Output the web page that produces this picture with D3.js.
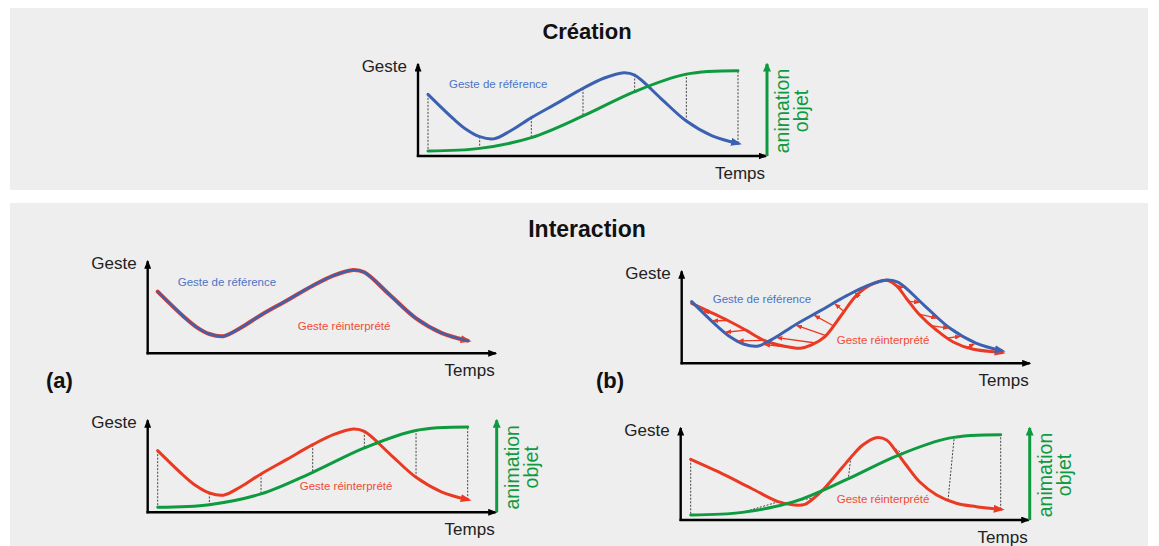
<!DOCTYPE html>
<html><head><meta charset="utf-8">
<script src="https://cdn.jsdelivr.net/npm/d3@7"></script>
<style>
body{margin:0;background:#fff}
svg{display:block}
text{font-family:"Liberation Sans",Arial,Helvetica,sans-serif}
</style>
</head><body>
<svg id="c" width="1159" height="546"></svg>
<script>
// ---------- DATA ----------
const sampleTimes = [0, 1, 2, 3, 4, 5, 6];
// reference gesture (Geste de référence)
const refTimes  = [0, 0.5, 0.75, 1, 1.27, 1.6, 2, 2.5, 3, 3.4, 3.79, 4, 4.5, 5, 5.5, 6];
const refValues = [67, 40, 28.5, 21, 18.6, 27.5, 41.7, 57.5, 73.5, 84.5, 90.6, 88, 63, 38, 22, 13.8];
// object animation (animation objet)
const animTimes  = [0, 1, 2, 3, 4, 5, 6];
const animValues = [5.4, 8.3, 20, 43.5, 70, 89, 92.7];
// reinterpreted gesture, panel (b) top
const reintTopTimes  = [0, 0.35, 0.7, 1.05, 1.4, 1.8, 2.1, 2.32, 2.58, 2.9, 3.19, 3.51, 3.77, 3.97, 4.16, 4.42, 4.74, 5.06, 5.45, 5.9, 6];
const reintTopValues = [65.2, 56, 46.5, 36, 25, 18.5, 16.3, 19.9, 29, 52.5, 73.9, 86.5, 90.2, 84, 70.2, 52.2, 35.9, 23.2, 15.2, 12.3, 11.5];
// reinterpreted gesture, panel (b) bottom
const reintBotTimes  = [0, 0.53, 1.17, 1.69, 2.01, 2.21, 2.34, 2.59, 2.92, 3.14, 3.33, 3.59, 3.79, 3.98, 4.17, 4.43, 4.76, 5.14, 5.53, 5.92, 6];
const reintBotValues = [66, 52.5, 34.5, 20, 16.3, 17, 21.7, 34.5, 56.2, 70.7, 81.5, 89.5, 87, 74.2, 59.8, 41.6, 27.2, 18.2, 14.5, 12, 11.6];
// alignment arrows (b) top: time on reinterpreted curve -> time on reference curve
const alignFromTimes = [0.35, 0.7, 1.05, 1.4, 1.9, 2.4, 2.6, 2.75, 2.95, 3.2, 4.0, 4.2, 4.4, 4.63, 4.94, 5.33];
const alignToTimes   = [0.2, 0.38, 0.63, 0.87, 1.38, 1.62, 2.0, 2.35, 2.75, 3.15, 4.13, 4.44, 4.77, 5.0, 5.23, 5.5];
// links (b) bottom: time on gesture -> time on animation
const linkGestTimes = [0, 1.7, 2.4, 3.1, 3.91, 4.98, 6];
const linkAnimTimes = [0, 1, 2, 3.05, 4.1, 5.1, 6];

const titles = ["Création", "Interaction"];
const axisY = "Geste", axisX = "Temps";
const animLabel = ["animation", "objet"];
const refLabel = "Geste de référence", reintLabel = "Geste réinterprété";

// ---------- STYLE ----------
const BLUE = "#3b61b0", RED = "#ea3a23", GREEN = "#0e9a3f";
const TBLUE = "#4d73c6", TRED = "#f04b36";

const zip = (a, b) => a.map((t, i) => [t, b[i]]);
const series = {
  ref: zip(refTimes, refValues),
  anim: zip(animTimes, animValues),
  rtop: zip(reintTopTimes, reintTopValues),
  rbot: zip(reintBotTimes, reintBotValues)
};

const svg = d3.select("#c");
const defs = svg.append("defs");
function marker(id, color, w, h, refX) {
  defs.append("marker").attr("id", id)
    .attr("markerUnits", "userSpaceOnUse")
    .attr("viewBox", `0 0 ${w} ${h}`).attr("preserveAspectRatio", "none")
    .attr("markerWidth", w).attr("markerHeight", h)
    .attr("refX", refX).attr("refY", h / 2).attr("orient", "auto")
    .append("path").attr("d", `M0,0L${w},${h/2}L0,${h}Z`).attr("fill", color);
}
marker("ah-black", "#000", 9, 7, 7.5);
marker("ah-green", GREEN, 9, 8, 7.5);
marker("ah-blue", BLUE, 11, 8, 7);
marker("ah-red", RED, 11, 8, 7);
marker("ah-small", RED, 6, 5, 5.5);

// panels
svg.append("rect").attr("x", 10).attr("y", 8).attr("width", 1138).attr("height", 182).attr("fill", "#eeeeee");
svg.append("rect").attr("x", 10).attr("y", 203).attr("width", 1138).attr("height", 343).attr("fill", "#eeeeee");
svg.append("text").attr("x", 587).attr("y", 39).attr("text-anchor", "middle")
  .attr("font-size", 22).attr("font-weight", "bold").attr("fill", "#111").text(titles[0]);
svg.append("text").attr("x", 587).attr("y", 237).attr("text-anchor", "middle")
  .attr("font-size", 23).attr("font-weight", "bold").attr("fill", "#111").text(titles[1]);
svg.append("text").attr("x", 46).attr("y", 388).attr("font-size", 22).attr("font-weight", "bold").attr("fill", "#111").text("(a)");
svg.append("text").attr("x", 596).attr("y", 388).attr("font-size", 22).attr("font-weight", "bold").attr("fill", "#111").text("(b)");

function pointAtX(node, px) {
  let lo = 0, hi = node.getTotalLength();
  for (let i = 0; i < 32; i++) {
    const m = (lo + hi) / 2;
    if (node.getPointAtLength(m).x < px) lo = m; else hi = m;
  }
  return node.getPointAtLength((lo + hi) / 2);
}

function chart(cfg) {
  const g = svg.append("g").attr("transform", `translate(${cfg.ox},${cfg.oy})`);
  const x = d3.scaleLinear().domain([0, 6]).range([10, 320]);
  const y = d3.scaleLinear().domain([0, 100]).range([0, -92]);
  const line = d3.line().x(d => x(d[0])).y(d => y(d[1])).curve(d3.curveCatmullRom.alpha(0.5));

  const gLinks = g.append("g"), gCurves = g.append("g"), gArrows = g.append("g"), gAxes = g.append("g");

  // axes
  gAxes.append("line").attr("x1", 0).attr("y1", 1).attr("x2", 0).attr("y2", y(100))
    .attr("stroke", "#000").attr("stroke-width", 2.4).attr("marker-end", "url(#ah-black)");
  gAxes.append("line").attr("x1", -1.2).attr("y1", 0).attr("x2", 348).attr("y2", 0)
    .attr("stroke", "#000").attr("stroke-width", 2.4).attr("marker-end", "url(#ah-black)");
  gAxes.append("text").attr("x", -11).attr("y", -84).attr("text-anchor", "end")
    .attr("font-size", 17).attr("fill", "#222").text(axisY);
  gAxes.append("text").attr("x", 347).attr("y", 23).attr("text-anchor", "end")
    .attr("font-size", 17).attr("fill", "#222").text(axisX);

  const nodes = {};
  cfg.curves.forEach(c => {
    const p = gCurves.append("path").datum(series[c.key]).attr("d", line)
      .attr("fill", "none").attr("stroke", c.color).attr("stroke-width", c.w)
      .attr("stroke-linecap", "round");
    if (c.marker) p.attr("marker-end", `url(#ah-${c.marker})`);
    if (!nodes[c.key]) nodes[c.key] = p.node();
  });

  if (cfg.anim) {
    const p = gCurves.append("path").datum(series.anim).attr("d", line)
      .attr("fill", "none").attr("stroke", GREEN).attr("stroke-width", 3).attr("stroke-linecap", "round");
    nodes.anim = p.node();
    gAxes.append("line").attr("x1", 349).attr("y1", 0).attr("x2", 349).attr("y2", y(100))
      .attr("stroke", GREEN).attr("stroke-width", 3).attr("marker-end", "url(#ah-green)");
    [[animLabel[0], 371], [animLabel[1], 390]].forEach(([t, bx]) => {
      gAxes.append("text").attr("transform", `translate(${bx},-45) rotate(-90)`)
        .attr("text-anchor", "middle").attr("font-size", 19.5).attr("fill", GREEN).text(t);
    });
  }

  if (cfg.links) {
    const gk = nodes[cfg.links.gesture], ak = nodes.anim;
    cfg.links.gestT.forEach((tg, i) => {
      const a = pointAtX(gk, x(tg)), b = pointAtX(ak, x(cfg.links.animT[i]));
      gLinks.append("line").attr("x1", a.x).attr("y1", a.y).attr("x2", b.x).attr("y2", b.y)
        .attr("stroke", "#444").attr("stroke-width", 1).attr("stroke-dasharray", "2,1.5");
    });
  }

  if (cfg.align) {
    alignFromTimes.forEach((tf, i) => {
      const a = pointAtX(nodes.rtop, x(tf)), b = pointAtX(nodes.ref, x(alignToTimes[i]));
      const dx = b.x - a.x, dy = b.y - a.y, L = Math.hypot(dx, dy) || 1;
      const k = Math.max(0, (L - 1.5) / L);
      gArrows.append("line").attr("x1", a.x).attr("y1", a.y)
        .attr("x2", a.x + dx * k).attr("y2", a.y + dy * k)
        .attr("stroke", RED).attr("stroke-width", 1.3).attr("marker-end", "url(#ah-small)");
    });
  }

  (cfg.labels || []).forEach(l => {
    gAxes.append("text").attr("x", l.dx).attr("y", l.dy).attr("font-size", 11.5)
      .attr("fill", l.color).text(l.text);
  });
}

chart({ ox: 418, oy: 156,
  curves: [{ key: "ref", color: BLUE, w: 3, marker: "blue" }],
  anim: true, links: { gesture: "ref", gestT: sampleTimes, animT: sampleTimes },
  labels: [{ text: refLabel, dx: 31, dy: -68, color: TBLUE }] });

chart({ ox: 147.7, oy: 353.3,
  curves: [{ key: "ref", color: RED, w: 4, marker: "red" }, { key: "ref", color: BLUE, w: 2.5 }],
  labels: [{ text: refLabel, dx: 30, dy: -67, color: TBLUE }, { text: reintLabel, dx: 150, dy: -23, color: TRED }] });

chart({ ox: 147.7, oy: 512.3,
  curves: [{ key: "ref", color: RED, w: 3, marker: "red" }],
  anim: true, links: { gesture: "ref", gestT: sampleTimes, animT: sampleTimes },
  labels: [{ text: reintLabel, dx: 152, dy: -22, color: TRED }] });

chart({ ox: 681.7, oy: 363.3,
  curves: [{ key: "rtop", color: RED, w: 3, marker: "red" }, { key: "ref", color: BLUE, w: 3, marker: "blue" }],
  align: true,
  labels: [{ text: refLabel, dx: 31, dy: -60, color: TBLUE }, { text: reintLabel, dx: 155, dy: -19, color: TRED }] });

chart({ ox: 680.7, oy: 520,
  curves: [{ key: "rbot", color: RED, w: 3, marker: "red" }],
  anim: true, links: { gesture: "rbot", gestT: linkGestTimes, animT: linkAnimTimes },
  labels: [{ text: reintLabel, dx: 156, dy: -17, color: TRED }] });
</script>
</body></html>
